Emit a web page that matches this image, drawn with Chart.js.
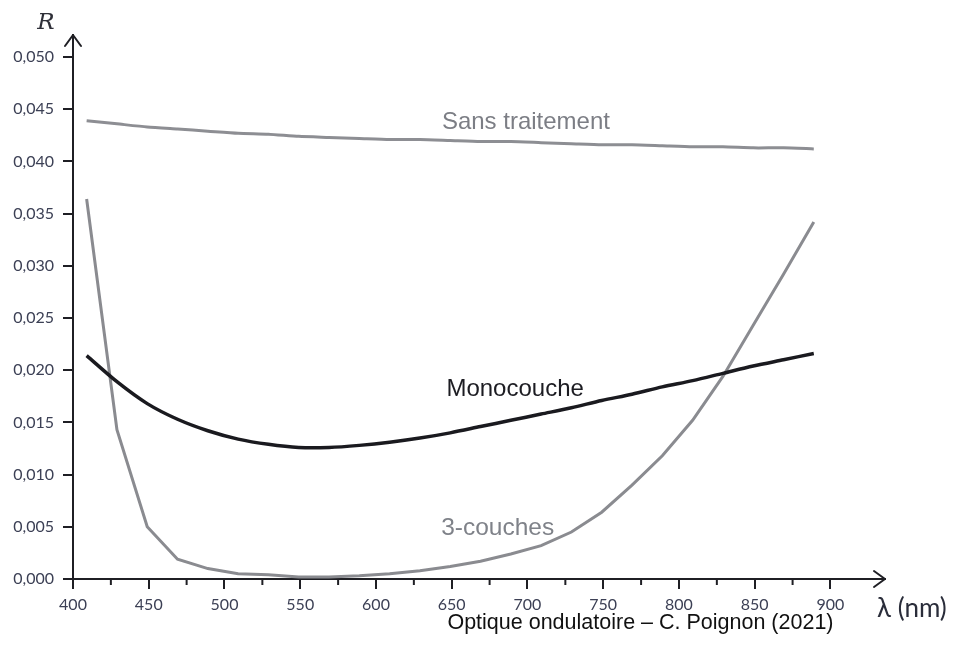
<!DOCTYPE html>
<html>
<head>
<meta charset="utf-8">
<script src="https://cdn.jsdelivr.net/npm/chart.js@4.4.1/dist/chart.umd.min.js"></script>
<style>
  html, body { margin: 0; padding: 0; background: #fff; }
  #wrap { width: 957px; height: 655px; position: relative; }
</style>
</head>
<body>
<div id="wrap"><canvas id="chart"></canvas></div>
<script>
// wavelengths (nm) and reflectance values
const wavelengths = [409, 429, 449, 469, 489, 509, 529, 549, 569, 589, 609, 629, 649,
  669, 689, 709, 729, 749, 769, 789, 809, 829, 849, 869, 889];

const sansTraitement = [0.0439, 0.0436, 0.0433, 0.0431, 0.0429, 0.0427, 0.0426, 0.0424,
  0.0423, 0.0422, 0.0421, 0.0421, 0.0420, 0.0419, 0.0419, 0.0418, 0.0417, 0.0416,
  0.0416, 0.0415, 0.0414, 0.0414, 0.0413, 0.0413, 0.0412];

const monocouche = [0.0214, 0.0189, 0.0168, 0.0153, 0.0142, 0.0134, 0.0129, 0.0126,
  0.0126, 0.0128, 0.0131, 0.0135, 0.0140, 0.0146, 0.0152, 0.0158, 0.0164, 0.0171,
  0.0177, 0.0184, 0.0190, 0.0197, 0.0204, 0.0210, 0.0216];

const troisCouches = [0.0364, 0.0143, 0.0050, 0.0019, 0.0010, 0.0005, 0.0004, 0.0002,
  0.0002, 0.0003, 0.0005, 0.0008, 0.0012, 0.0017, 0.0024, 0.0032, 0.0045, 0.0064,
  0.0090, 0.0118, 0.0152, 0.0194, 0.0243, 0.0292, 0.0342];

const seriesNames = ['Sans traitement', 'Monocouche', '3-couches'];

const toPoints = vals => wavelengths.map((w, i) => ({ x: w, y: vals[i] }));

const AXIS = '#1f1f24';
const TICK_TXT = '#3c4055';

// arrows, minor ticks, curve labels and titles
const decorations = {
  id: 'decorations',
  afterDraw(chart) {
    const { ctx, chartArea: a, scales: { x, y } } = chart;
    ctx.save();
    ctx.strokeStyle = AXIS;
    ctx.lineWidth = 2;
    ctx.lineCap = 'round';
    ctx.lineJoin = 'round';

    // y arrow
    ctx.beginPath();
    ctx.moveTo(a.left - 8, a.top + 11);
    ctx.lineTo(a.left, a.top);
    ctx.lineTo(a.left + 8, a.top + 11);
    ctx.stroke();
    // x arrow
    ctx.beginPath();
    ctx.moveTo(a.right - 11, a.bottom - 8);
    ctx.lineTo(a.right, a.bottom);
    ctx.lineTo(a.right - 11, a.bottom + 8);
    ctx.stroke();

    // minor ticks halfway between labelled ticks
    const t = x.ticks;
    ctx.lineCap = 'butt';
    for (let i = 0; i < t.length - 1; i++) {
      const px = x.getPixelForValue((t[i].value + t[i + 1].value) / 2);
      ctx.beginPath();
      ctx.moveTo(px, a.bottom);
      ctx.lineTo(px, a.bottom + 6);
      ctx.stroke();
    }

    // curve labels
    ctx.textBaseline = 'middle';
    ctx.textAlign = 'left';
    const labels = [
      { text: seriesNames[0], x: 643.5, y: 0.04377, color: '#7c7e85', size: 24 },
      { text: seriesNames[1], x: 646.5, y: 0.0182, color: '#1c1c22', size: 24 },
      { text: seriesNames[2], x: 643, y: 0.0049, color: '#7f8289', size: 24.5 }
    ];
    labels.forEach(l => {
      ctx.fillStyle = l.color;
      ctx.font = `${l.size}px "Liberation Sans", Arial, sans-serif`;
      ctx.fillText(l.text, x.getPixelForValue(l.x), y.getPixelForValue(l.y));
    });

    // axis titles
    ctx.fillStyle = '#2e2f38';
    ctx.font = 'italic 23px "DejaVu Serif", "Liberation Serif", serif';
    ctx.textAlign = 'center';
    ctx.fillText('R', a.left - 27, a.top - 12);

    ctx.fillStyle = '#2a2d3a';
    ctx.font = '26px Lato, "Open Sans", sans-serif';
    ctx.textAlign = 'left';
    ctx.fillText('λ (nm)', a.right - 8, a.bottom + 30);

    // source line
    ctx.fillStyle = '#111';
    ctx.font = '21.5px "Liberation Sans", Arial, sans-serif';
    ctx.textAlign = 'right';
    ctx.fillText('Optique ondulatoire – C. Poignon (2021)', x.getPixelForValue(902), a.bottom + 44);
    ctx.restore();
  }
};

const lineStyle = (label, data, color, width, tension) => ({
  label: label,
  data: toPoints(data),
  borderColor: color,
  borderWidth: width,
  pointRadius: 0,
  tension: tension,
  fill: false
});

new Chart(document.getElementById('chart'), {
  type: 'line',
  data: {
    datasets: [
      lineStyle(seriesNames[0], sansTraitement, '#8d8e93', 3, 0.2),
      lineStyle(seriesNames[1], monocouche, '#1a1a1f', 3.5, 0.3),
      lineStyle(seriesNames[2], troisCouches, '#8a8b90', 3, 0)
    ]
  },
  options: {
    responsive: true,
    maintainAspectRatio: false,
    animation: false,
    layout: { padding: { top: 35, right: 72, bottom: 31, left: 0 } },
    plugins: {
      legend: { display: false },
      tooltip: { enabled: false }
    },
    scales: {
      x: {
        type: 'linear',
        min: 400,
        max: 936,
        afterBuildTicks: s => { s.ticks = s.ticks.filter(t => t.value <= 900); },
        afterFit: s => { s.height = 45; },
        border: { display: true, color: AXIS, width: 2 },
        grid: { drawOnChartArea: false, drawTicks: true, tickLength: 10, color: AXIS, lineWidth: 2 },
        ticks: {
          stepSize: 50,
          includeBounds: false,
          autoSkip: false,
          maxRotation: 0,
          padding: 6,
          color: TICK_TXT,
          font: { family: 'Lato, "Open Sans", sans-serif', size: 16 }
        }
      },
      y: {
        min: 0,
        max: 0.05211,
        afterBuildTicks: s => { s.ticks = s.ticks.filter(t => t.value <= 0.0501); },
        afterFit: s => { s.width = 73; },
        border: { display: true, color: AXIS, width: 2 },
        grid: { drawOnChartArea: false, drawTicks: true, tickLength: 10, color: AXIS, lineWidth: 2 },
        ticks: {
          stepSize: 0.005,
          includeBounds: false,
          autoSkip: false,
          padding: 9,
          color: TICK_TXT,
          font: { family: 'Lato, "Open Sans", sans-serif', size: 16 },
          callback: v => v.toFixed(3).replace('.', ',')
        }
      }
    }
  },
  plugins: [decorations]
});
</script>
</body>
</html>
